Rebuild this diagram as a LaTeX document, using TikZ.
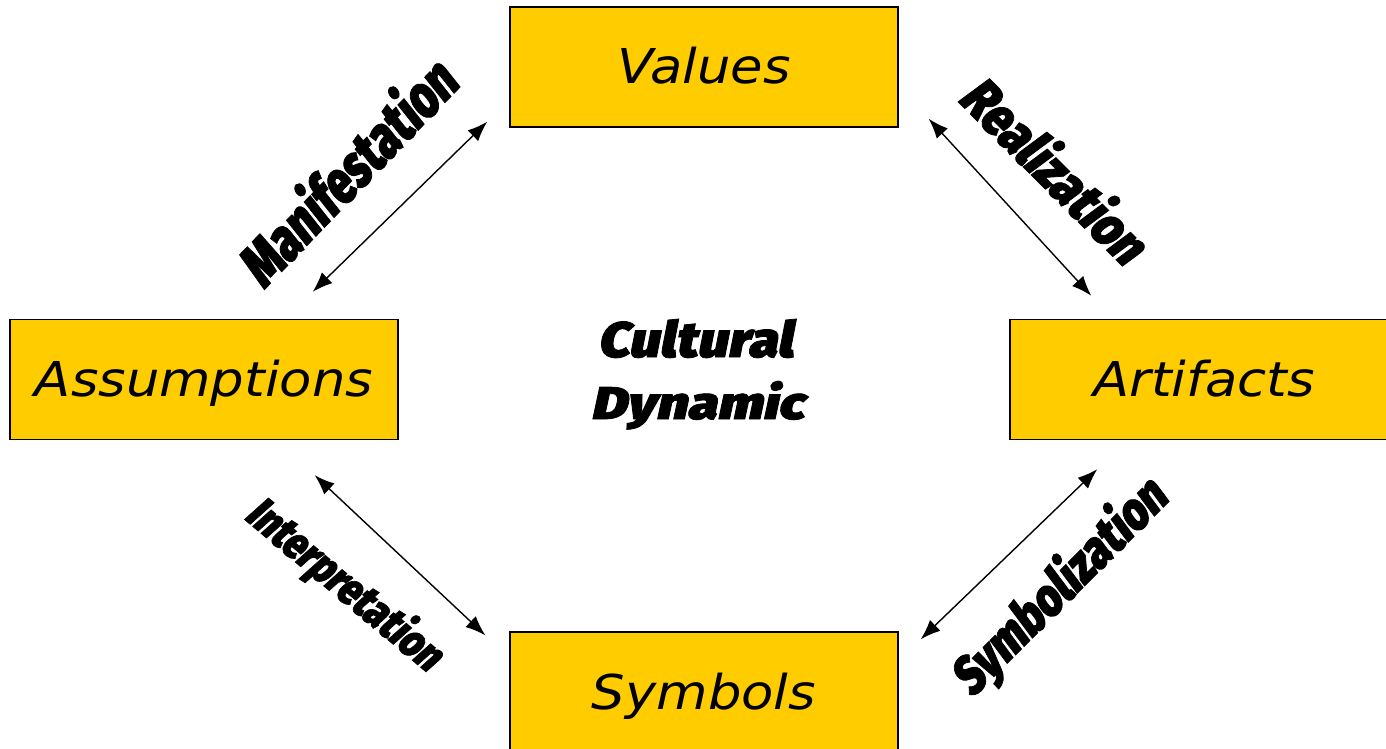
\documentclass[tikz,border=0pt]{standalone}
\usepackage{fontspec}
\usepackage{graphicx}
\usetikzlibrary{arrows.meta,calc}
\setmainfont{DejaVu Sans}
% wide oblique face for the four stages
\newfontfamily\boxfont{DejaVu Sans}[FakeStretch=1.1]
% heavy slanted face for the process names
\newfontfamily\heavyfont{Fira Sans Black}[FakeSlant=0.18,FakeBold=1.5]
\definecolor{boxfill}{HTML}{FFCC00}

\begin{document}
\begin{tikzpicture}[x=1pt,y=-1pt,
  stage/.style={draw=black, line width=1.4pt, fill=boxfill,
    minimum width=388pt, minimum height=120pt, inner sep=0pt,
    text height=34pt, text depth=0pt,
    font=\boxfont\itshape\fontsize{48}{50}\selectfont},
  link/.style={{Latex[length=20pt,width=15pt]}-{Latex[length=20pt,width=15pt]},
    line width=1.4pt},
  verb/.style={inner sep=0pt, font=\heavyfont}
]
\useasboundingbox (0,0) rectangle (1386,749);
\clip (0,0) rectangle (1386,749);

% the four stages
\node[stage] (val) at (704,67)    {Values};
\node[stage] (asm) at (204,379.5) {Assumptions};
\node[stage] (art) at (1204,379.5){Artifacts};
\node[stage] (sym) at (704,692)   {Symbols};

% title in the middle
\node[verb, anchor=base] (cul) at (695,357) {\resizebox{195pt}{38pt}{Cultural}};
\node[verb, anchor=base] (dyn) at (697,419) {\resizebox{213pt}{38pt}{Dynamic}};

% two-way links between neighbouring stages
\draw[link] ($(asm.north east)+(-86,-27)$) -- ($(val.south west)+(-22,-6)$);
\draw[link] ($(val.south east)+(30,-9)$)   -- ($(art.north west)+(82,-23)$);
\draw[link] ($(asm.south east)+(-84,35)$)  -- ($(sym.north west)+(-24,4)$);
\draw[link] ($(sym.north east)+(22,8)$)    -- ($(art.south west)+(88,29)$);

% process names along the links
\node[verb, rotate=46]  (man)  at (345,171)  {\resizebox{284pt}{50pt}{Manifestation}};
\node[verb, rotate=-45] (rea)  at (1056,168) {\resizebox{236pt}{46pt}{Realization}};
\node[verb, rotate=-40] (intp) at (344,585)  {\resizebox{240pt}{38pt}{Interpretation}};
\node[verb, rotate=45]  (symz) at (1060,588) {\resizebox{280pt}{44pt}{Symbolization}};
\end{tikzpicture}
\end{document}
